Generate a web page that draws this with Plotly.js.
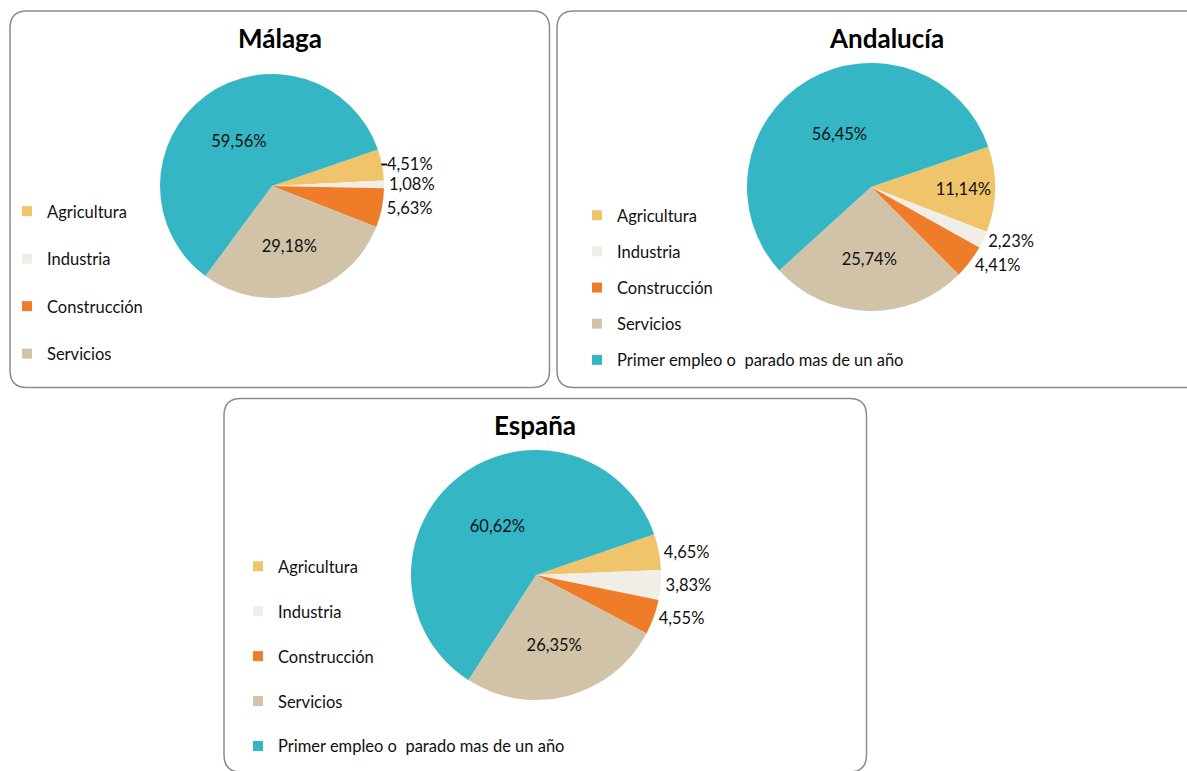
<!DOCTYPE html>
<html>
<head>
<meta charset="utf-8">
<script src="https://cdn.plot.ly/plotly-3.0.1.min.js"></script>
<style>html,body{margin:0;padding:0;background:#fff;}#chart{width:1187px;height:771px;}</style>
</head>
<body>
<div id="chart"></div>
<script>
// ---- data ----
const categories = ["Agricultura", "Industria", "Construcción", "Servicios", "Primer empleo o  parado mas de un año"];
const malagaValues = [4.51, 1.08, 5.63, 29.18, 59.56];
const andaluciaValues = [11.14, 2.23, 4.41, 25.74, 56.45];
const espanaValues = [4.65, 3.83, 4.55, 26.35, 60.62];
const panelTitles = ["Málaga", "Andalucía", "España"];
const colors = ["#EFC46A", "#F1EDE7", "#EE7C28", "#D0C3A8", "#34B6C5"];

// ---- layout helpers ----
const W = 1187, H = 771;
const FONT = "Lato, 'Liberation Sans', sans-serif";
const FS = 16.5;
function dom(cx, cy, r) {
  return {x: [(cx - r) / W, (cx + r) / W], y: [1 - (cy + r) / H, 1 - (cy - r) / H]};
}
function roundRect(x0, y0, x1, y1, r) {
  return `M${x0 + r},${y0} L${x1 - r},${y0} Q${x1},${y0} ${x1},${y0 + r} L${x1},${y1 - r} Q${x1},${y1} ${x1 - r},${y1} ` +
         `L${x0 + r},${y1} Q${x0},${y1} ${x0},${y1 - r} L${x0},${y0 + r} Q${x0},${y0} ${x0 + r},${y0} Z`;
}

function pieTrace(values, domain, positions) {
  return {
    type: "pie", labels: categories, values: values, sort: false, direction: "clockwise",
    rotation: 71, domain: domain, showlegend: false, hoverinfo: "none",
    marker: {colors: colors, line: {width: 0}},
    texttemplate: "%{value:.2f}%", textposition: positions,
    insidetextorientation: "horizontal",
    textfont: {family: FONT, size: FS, color: "#111"},
    insidetextfont: {family: FONT, size: FS, color: "#111"},
    outsidetextfont: {family: FONT, size: FS, color: "#111"}
  };
}

const traces = [
  pieTrace(malagaValues, dom(272, 186, 112), ["outside", "outside", "outside", "inside", "inside"]),
  pieTrace(andaluciaValues, dom(871, 187, 124), ["inside", "outside", "outside", "inside", "inside"]),
  pieTrace(espanaValues, dom(536, 575, 125), ["outside", "outside", "outside", "inside", "inside"])
];

// legend entries (dummy traces, one per category, per panel)
const legendSets = [["legend", 4], ["legend2", 5], ["legend3", 5]];
legendSets.forEach(([lg, n]) => {
  for (let i = 0; i < n; i++) {
    traces.push({
      type: "scatter", mode: "markers", x: [null], y: [null], name: categories[i],
      legend: lg, legendgroup: lg + "_" + i, showlegend: true, hoverinfo: "skip",
      marker: {symbol: "square", size: 10, color: colors[i]}
    });
  }
});

const legendBase = {
  bgcolor: "rgba(0,0,0,0)", borderwidth: 0, xanchor: "left", yanchor: "top",
  font: {family: FONT, size: FS, color: "#111"}, itemclick: false, itemdoubleclick: false,
  traceorder: "grouped", itemwidth: 30
};

const layout = {
  width: W, height: H, margin: {l: 0, r: 0, t: 0, b: 0, autoexpand: false},
  paper_bgcolor: "#fff", plot_bgcolor: "rgba(0,0,0,0)",
  separators: ",.",
  xaxis: {visible: false, range: [0, W], domain: [0, 1], fixedrange: true},
  yaxis: {visible: false, range: [H, 0], domain: [0, 1], fixedrange: true},
  legend: Object.assign({}, legendBase, {x: 7 / W, y: 1 - 194 / H, tracegroupgap: 23}),
  legend2: Object.assign({}, legendBase, {x: 577 / W, y: 1 - 198 / H, tracegroupgap: 11.7}),
  legend3: Object.assign({}, legendBase, {x: 238 / W, y: 1 - 549 / H, tracegroupgap: 20.5}),
  shapes: [
    {type: "path", xref: "x", yref: "y", path: roundRect(10, 11, 549.5, 387.5, 17), line: {color: "#8c8c8c", width: 1.5}, layer: "below"},
    {type: "path", xref: "x", yref: "y", path: roundRect(557, 11, 1230, 387.5, 17), line: {color: "#8c8c8c", width: 1.5}, layer: "below"},
    {type: "path", xref: "x", yref: "y", path: roundRect(224, 398.5, 866.5, 772, 17), line: {color: "#8c8c8c", width: 1.5}, layer: "below"}
  ],
  annotations: [
    {xref: "x", yref: "y", x: 280, y: 38, text: "<b>" + panelTitles[0] + "</b>", showarrow: false, font: {family: FONT, size: 26, color: "#000"}},
    {xref: "x", yref: "y", x: 886, y: 38, text: "<b>" + panelTitles[1] + "</b>", showarrow: false, font: {family: FONT, size: 26, color: "#000"}},
    {xref: "x", yref: "y", x: 535, y: 425, text: "<b>" + panelTitles[2] + "</b>", showarrow: false, font: {family: FONT, size: 26, color: "#000"}}
  ]
};

Plotly.newPlot("chart", traces, layout, {displayModeBar: false, staticPlot: true});
</script>
</body>
</html>
